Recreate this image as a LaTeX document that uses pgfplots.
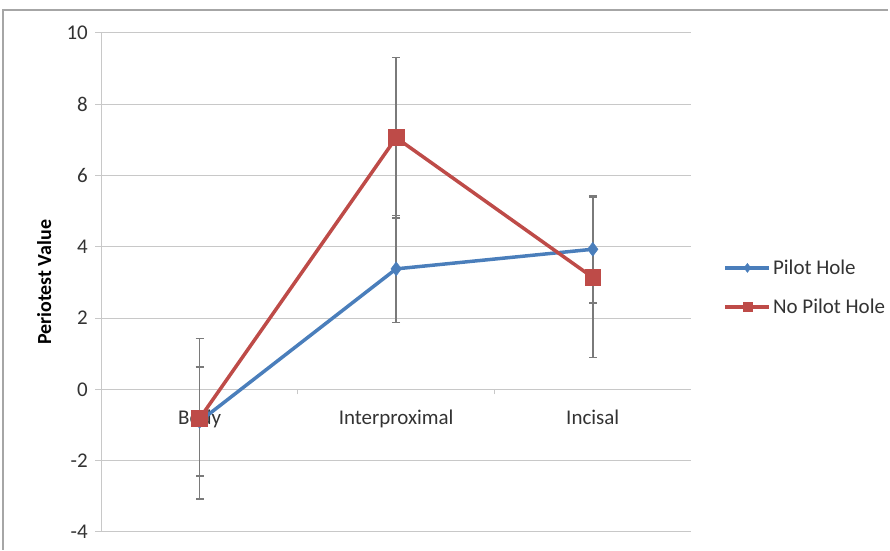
\documentclass[border=0pt]{standalone}
\usepackage{pgfplots}
\pgfplotsset{compat=1.18}
\usepackage{fontspec}
\setmainfont{Carlito}
\definecolor{pblue}{HTML}{4A7EBB}
\definecolor{pred}{HTML}{BE4B48}
\definecolor{gridgray}{HTML}{C8C8C8}
\definecolor{errgray}{HTML}{7A7A7A}
\begin{document}
\begin{tikzpicture}
\path (0pt,0pt) rectangle (890pt,551pt);
\draw[color=gray!70, line width=2pt] (3pt,0pt) -- (3pt,541pt) -- (890pt,541pt);
\begin{axis}[
  at={(101.5pt,18pt)}, anchor=south west,
  scale only axis, width=591pt, height=500pt,
  set layers,
  xmin=-0.5, xmax=2.5, ymin=-4, ymax=10,
  ytick={-4,-2,0,2,4,6,8,10},
  xtick={0,1,2}, xticklabels={Body,Interproximal,Incisal},
  minor xtick={0.5,1.5},
  axis x line*=middle, axis y line*=left,
  axis line style={gridgray, line width=1pt},
  ymajorgrids, grid style={gridgray, line width=1pt},
  x tick style={draw=none},
  minor x tick style={draw=gridgray, line width=1pt},
  y tick style={gridgray, line width=1pt},
  tick align=outside, major tick length=6pt, minor tick length=5pt,
  /pgf/number format/assume math mode=true,
  tick label style={font=\fontsize{21}{25}\selectfont, text=black!80},
  xticklabel style={yshift=-11pt},
  yticklabel style={xshift=-4pt},
  ylabel={\bfseries Periotest Value},
  ylabel style={font=\fontsize{20}{24}\selectfont, text=black,
    at={(axis description cs:-0.097,0.5)}, anchor=center},
  legend style={at={(1.05,0.49)}, anchor=west, draw=none, fill=none,
    font=\fontsize{21}{25}\selectfont, text=black!80, row sep=19pt,
    /tikz/every even column/.append style={column sep=2pt}},
  legend cell align=left,
  legend image code/.code={\draw[#1, mark size=4.5pt, mark repeat=2, mark phase=2]
    plot coordinates {(0pt,0pt) (22pt,0pt) (44pt,0pt)};},
  error bars/error bar style={errgray, line width=1.6pt},
  error bars/error mark options={errgray, rotate=90, mark size=4pt, line width=1.6pt},
]
\addplot[pblue, line width=3.5pt, mark=diamond*, mark size=7pt, mark options={fill=pblue, line width=0.5pt},
  error bars/.cd, y dir=both, y explicit]
  coordinates {(0,-0.9) +- (0,1.53) (1,3.38) +- (0,1.5) (2,3.93) +- (0,1.5)};
\addlegendentry{Pilot Hole}
\addplot[pred, line width=3.5pt, mark=square*, mark size=8pt, mark options={fill=pred, line width=0.5pt},
  error bars/.cd, y dir=both, y explicit]
  coordinates {(0,-0.82) +- (0,2.25) (1,7.06) +- (0,2.25) (2,3.14) +- (0,2.25)};
\addlegendentry{No Pilot Hole}
\end{axis}
\end{tikzpicture}
\end{document}
